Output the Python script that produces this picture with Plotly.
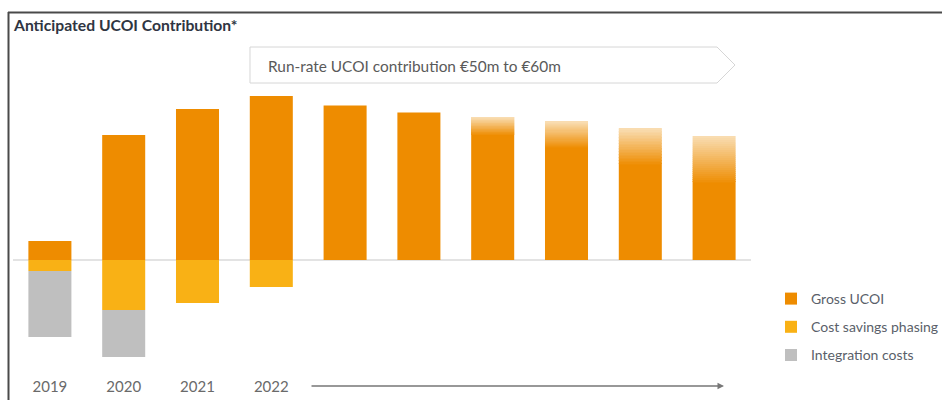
import plotly.graph_objects as go

# ---------------- data ----------------
periods = list(range(10))
tick_labels = ["2019", "2020", "2021", "2022", "", "", "", "", "", ""]
gross_ucoi = [7.6, 50.0, 60.4, 65.6, 61.8, 59.0, 57.2, 55.6, 52.8, 49.6]
gross_firm = [7.6, 50.0, 60.4, 65.6, 61.8, 59.0, 50.0, 44.8, 38.0, 30.8]
cost_savings = [-4.4, -20.0, -17.2, -10.8, None, None, None, None, None, None]
integration = [-26.4, -18.8, None, None, None, None, None, None, None, None]
series_names = ["Gross UCOI", "Cost savings phasing", "Integration costs"]
title_text = "Anticipated UCOI Contribution*"
run_rate_text = "Run-rate UCOI contribution €50m to €60m"

# ---------------- style ----------------
FONT = "Lato"
C_GROSS = (238, 140, 0)
C_FADE_TOP = (249, 222, 180)
C_COST = "#F9B115"
C_INTEG = "#BFBFBF"
W, H = 942, 400
ML, MR, MT, MB = 13, 191, 50, 30
PW, PH = W - ML - MR, H - MT - MB


def px(xp):
    return (xp - ML) / PW


def py(yp):
    return (H - MB - yp) / PH


def rgb(c):
    return "rgb(%d,%d,%d)" % c


fig = go.Figure()

fig.add_trace(go.Bar(
    x=periods, y=gross_firm, name=series_names[0], legendgroup="g1",
    marker=dict(color=rgb(C_GROSS), line=dict(width=0)),
))

# uncertainty fade on top of the firm part (gradient made of thin slices)
N = 24
for k in range(N):
    t = (k + 0.5) / N
    col = tuple(int(round(C_GROSS[i] + (C_FADE_TOP[i] - C_GROSS[i]) * t)) for i in range(3))
    seg = [(g - f) / N if g > f else None for g, f in zip(gross_ucoi, gross_firm)]
    fig.add_trace(go.Bar(
        x=periods, y=seg, showlegend=False, hoverinfo="skip",
        marker=dict(color=rgb(col), line=dict(width=0)),
    ))

fig.add_trace(go.Bar(
    x=periods, y=cost_savings, name=series_names[1], legendgroup="g2",
    marker=dict(color=C_COST, line=dict(width=0)),
))
fig.add_trace(go.Bar(
    x=periods, y=integration, name=series_names[2], legendgroup="g3",
    marker=dict(color=C_INTEG, line=dict(width=0)),
))

shapes = [
    # outer frame (top + left)
    dict(type="line", xref="paper", yref="paper", x0=px(8), x1=px(942), y0=py(12.5), y1=py(12.5),
         line=dict(color="#4a4a4a", width=2)),
    dict(type="line", xref="paper", yref="paper", x0=px(8.5), x1=px(8.5), y0=py(12), y1=py(400),
         line=dict(color="#4a4a4a", width=2)),
    # run-rate arrow box
    dict(type="path", xref="paper", yref="paper",
         path="M %f,%f L %f,%f L %f,%f L %f,%f L %f,%f Z" % (
             px(250), py(47), px(717), py(47), px(735), py(65), px(717), py(83), px(250), py(83)),
         line=dict(color="#D6D6D6", width=1), fillcolor="white"),
]

annotations = [
    dict(text="<b>" + title_text + "</b>", xref="paper", yref="paper", x=px(11), y=py(25),
         xanchor="left", yanchor="middle", showarrow=False,
         font=dict(family=FONT, size=15.7, color="#2f3542")),
    dict(text=run_rate_text, xref="paper", yref="paper", x=px(266), y=py(66),
         xanchor="left", yanchor="middle", showarrow=False,
         font=dict(family=FONT, size=15.4, color="#5a5a5a")),
    dict(text="", xref="paper", yref="paper", x=px(724), y=py(386), ax=-414, ay=0,
         showarrow=True, arrowhead=2, arrowsize=1, arrowwidth=1.3, arrowcolor="#777777"),
]

fig.update_layout(
    width=W, height=H, autosize=False,
    margin=dict(l=ML, r=MR, t=MT, b=MB, pad=0, autoexpand=False),
    paper_bgcolor="white", plot_bgcolor="white",
    barmode="relative", bargap=0.417,
    font=dict(family=FONT, size=15, color="#666666"),
    xaxis=dict(range=[-0.5, 9.5], tickvals=periods, ticktext=tick_labels, showgrid=False,
               zeroline=False, showline=False, ticks="", tickfont=dict(size=15, color="#6a6a6a"),
               ticklabelstandoff=6, fixedrange=True, automargin=False),
    yaxis=dict(range=[-44, 84], showgrid=False, zeroline=True, zerolinecolor="#E3E3E3",
               zerolinewidth=2, showticklabels=False, showline=False, ticks="", fixedrange=True,
               automargin=False),
    legend=dict(x=px(771), y=py(283), xanchor="left", yanchor="top", traceorder="grouped",
                tracegroupgap=7, font=dict(family=FONT, size=14, color="#5a5f6a"),
                bgcolor="rgba(0,0,0,0)", borderwidth=0),
    shapes=shapes, annotations=annotations, showlegend=True,
)

fig.write_html(
    "out.html",
    config={"displayModeBar": False},
    post_script="document.body.style.margin='0';document.documentElement.style.overflow='hidden';",
)
